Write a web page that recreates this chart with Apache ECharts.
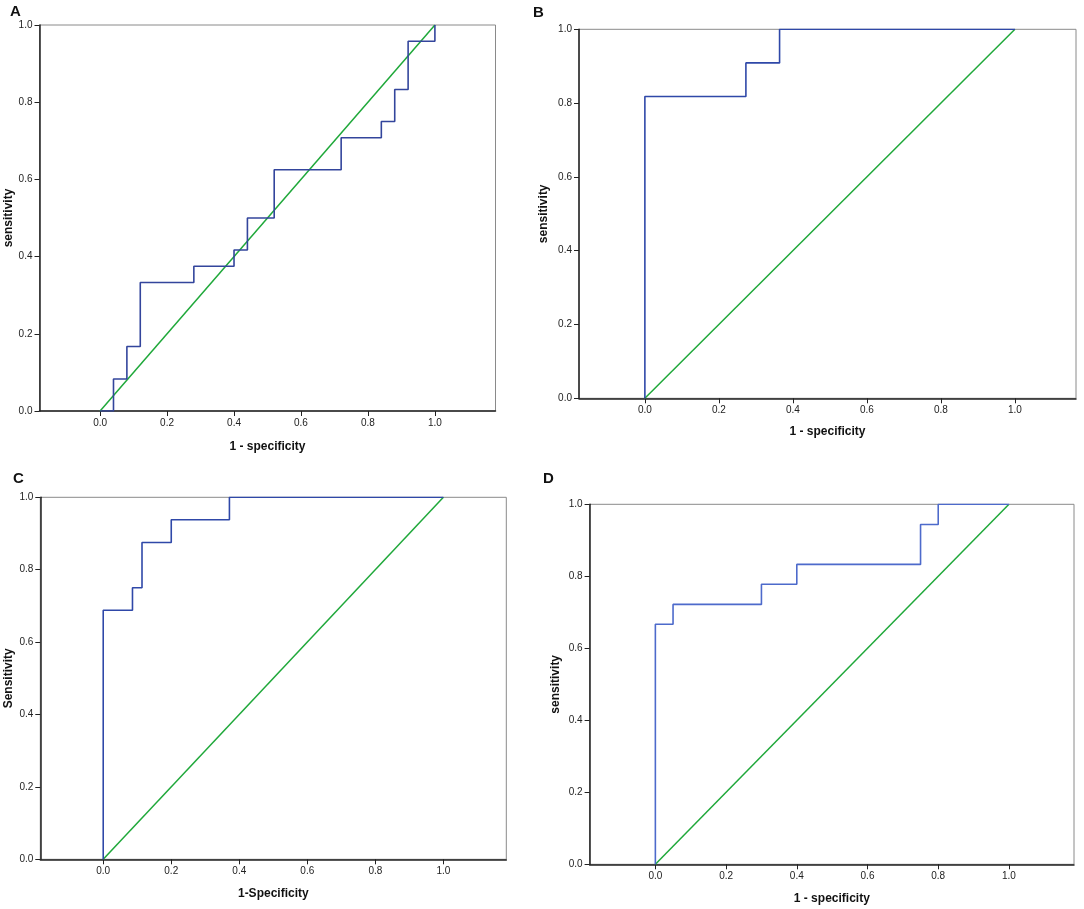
<!DOCTYPE html>
<html>
<head>
<meta charset="utf-8">
<script src="https://cdn.jsdelivr.net/npm/echarts@6/dist/echarts.min.js"></script>
<style>
  html, body { margin: 0; padding: 0; background: #fff; }
  #main { width: 1084px; height: 909px; }
</style>
</head>
<body>
<div id="main"></div>
<script>
// ROC curves, points where the step changes (1 - specificity, sensitivity)
var fprA = [0, 0.04, 0.08, 0.12, 0.28, 0.40, 0.44, 0.52, 0.72, 0.84, 0.88, 0.92, 1.0];
var tprA = [0, 0.083, 0.167, 0.333, 0.375, 0.417, 0.5, 0.625, 0.708, 0.75, 0.833, 0.958, 1.0];

var fprB = [0, 0, 0.273, 0.364, 1.0];
var tprB = [0, 0.818, 0.909, 1.0, 1.0];

var fprC = [0, 0, 0.086, 0.114, 0.2, 0.371, 1.0];
var tprC = [0, 0.688, 0.75, 0.875, 0.938, 1.0, 1.0];

var fprD = [0, 0, 0.05, 0.30, 0.40, 0.75, 0.80, 1.0];
var tprD = [0, 0.667, 0.722, 0.778, 0.833, 0.944, 1.0, 1.0];

// reference (chance) diagonal
var refX = [0, 1];
var refY = [0, 1];

var tickVals = [0, 0.2, 0.4, 0.6, 0.8, 1.0];

var panels = [
  { label: 'A', fpr: fprA, tpr: tprA, xName: '1 - specificity', yName: 'sensitivity',
    grid: { left: 39.5, top: 25, width: 456, height: 386 }, xMin: -0.181, xMax: 1.181,
    lx: 10, ly: 4, color: '#33459c', xGap: 30, yGap: 24 },
  { label: 'B', fpr: fprB, tpr: tprB, xName: '1 - specificity', yName: 'sensitivity',
    grid: { left: 579, top: 29.3, width: 497, height: 369 }, xMin: -0.178, xMax: 1.165,
    lx: 533, ly: 5, color: '#2f48a8', xGap: 27, yGap: 29 },
  { label: 'C', fpr: fprC, tpr: tprC, xName: '1-Specificity', yName: 'Sensitivity',
    grid: { left: 40.3, top: 497.3, width: 466, height: 362 }, xMin: -0.185, xMax: 1.185,
    lx: 13, ly: 471, color: '#2f48a8', xGap: 28, yGap: 26 },
  { label: 'D', fpr: fprD, tpr: tprD, xName: '1 - specificity', yName: 'sensitivity',
    grid: { left: 589.6, top: 504.3, width: 484.4, height: 360 }, xMin: -0.186, xMax: 1.184,
    lx: 543, ly: 471, color: '#4d6acb', xGap: 28, yGap: 28 }
];

function pairs(xs, ys) {
  var out = [];
  for (var i = 0; i < xs.length; i++) out.push([xs[i], ys[i]]);
  return out;
}

var font = 'Liberation Sans, Arial, sans-serif';
var nameStyle = { color: '#111', fontSize: 12, fontWeight: 'bold', fontFamily: font };

var option = {
  backgroundColor: '#fff',
  animation: false,
  title: [],
  grid: [],
  xAxis: [],
  yAxis: [],
  series: []
};

panels.forEach(function (p, i) {
  option.title.push({
    text: p.label, left: p.lx, top: p.ly, padding: 0,
    textStyle: { fontSize: 15, fontWeight: 'bold', color: '#111', fontFamily: font }
  });
  option.grid.push({
    left: p.grid.left, top: p.grid.top, width: p.grid.width, height: p.grid.height,
    show: true, borderColor: '#8a8a8a', borderWidth: 1, backgroundColor: '#fff'
  });
  option.xAxis.push({
    type: 'value', gridIndex: i, min: p.xMin, max: p.xMax,
    name: p.xName, nameLocation: 'middle', nameGap: p.xGap, nameTextStyle: nameStyle,
    axisLine: { onZero: false, lineStyle: { color: '#222', width: 1.5 } },
    axisTick: { show: true, customValues: tickVals, length: 5, lineStyle: { color: '#222' } },
    axisLabel: { customValues: tickVals, margin: 7, formatter: function (v) { return v.toFixed(1); },
      color: '#222', fontSize: 10, fontFamily: font },
    splitLine: { show: false }
  });
  option.yAxis.push({
    type: 'value', gridIndex: i, min: 0, max: 1, interval: 0.2,
    name: p.yName, nameLocation: 'middle', nameGap: p.yGap, nameTextStyle: nameStyle,
    axisLine: { show: true, onZero: false, lineStyle: { color: '#222', width: 1.5 } },
    axisTick: { show: true, length: 5, lineStyle: { color: '#222' } },
    axisLabel: { margin: 7, formatter: function (v) { return v.toFixed(1); },
      color: '#222', fontSize: 10, fontFamily: font },
    splitLine: { show: false }
  });
  option.series.push({
    type: 'line', xAxisIndex: i, yAxisIndex: i,
    data: pairs(refX, refY), symbol: 'none',
    lineStyle: { color: '#1fa83a', width: 1.5 }, z: 3
  });
  option.series.push({
    type: 'line', xAxisIndex: i, yAxisIndex: i, step: 'end',
    data: pairs(p.fpr, p.tpr), symbol: 'none',
    lineStyle: { color: p.color, width: 1.6 }, z: 4
  });
});

var chart = echarts.init(document.getElementById('main'));
chart.setOption(option);
</script>
</body>
</html>
